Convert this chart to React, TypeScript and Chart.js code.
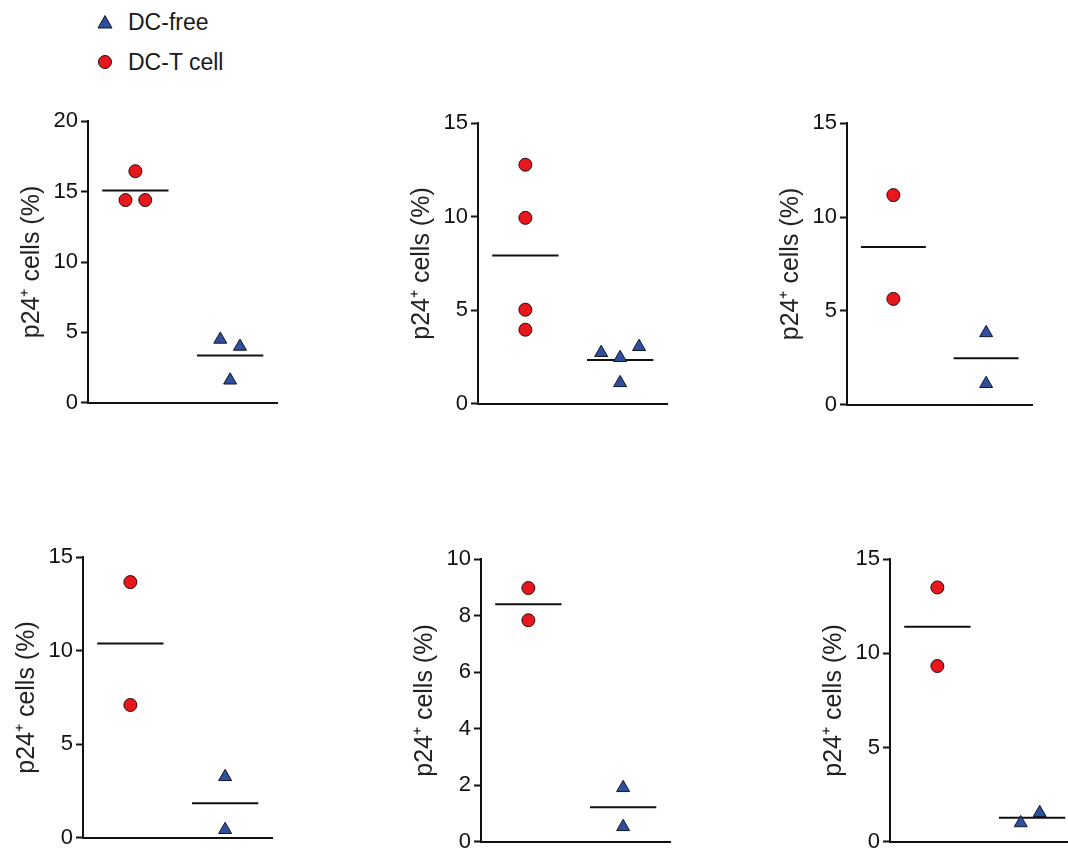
import React, { useEffect, useRef } from "react";
import { Chart, registerables } from "chart.js";

Chart.register(...registerables);

// ---------------- data ----------------
const groupNames = ["DC-free", "DC-T cell"];
const yTitle = "p24\u207A cells (%)";

// group centres on the x scale (red = DC-T cell, blue = DC-free)
const redCenter = 0.5;
const blueCenter = 1.5;

const p1Red = [16.45, 14.4, 14.4];
const p1RedJitter = [0, -0.104, 0.104];
const p1Blue = [4.5, 4.0, 1.6];
const p1BlueJitter = [-0.104, 0.104, 0];

const p2Red = [12.78, 9.94, 5.03, 3.96];
const p2RedJitter = [0, 0, 0, 0];
const p2Blue = [2.73, 2.46, 3.05, 1.12];
const p2BlueJitter = [-0.2, 0, 0.2, 0];

const p3Red = [11.17, 5.64];
const p3RedJitter = [0, 0];
const p3Blue = [3.83, 1.12];
const p3BlueJitter = [0, 0];

const p4Red = [13.67, 7.1];
const p4RedJitter = [0, 0];
const p4Blue = [3.26, 0.43];
const p4BlueJitter = [0, 0];

const p5Red = [8.98, 7.84];
const p5RedJitter = [0, 0];
const p5Blue = [1.91, 0.53];
const p5BlueJitter = [0, 0];

const p6Red = [13.5, 9.33];
const p6RedJitter = [0, 0];
const p6Blue = [1.0, 1.54];
const p6BlueJitter = [-0.12, 0.08];

const yMaxes = [20, 15, 15, 15, 10, 15];
const ySteps = [5, 5, 5, 5, 2, 5];

// ---------------- layout / style ----------------
const FONT = "'Liberation Sans', Arial, Helvetica, sans-serif";
const RED = "#e8161d";
const BLUE = "#2f4f9e";
const INK = "#111111";
const AXIS_W = 71;
const PAD_TOP = 16;
const PAD_BOTTOM = 16;
const PAD_RIGHT = 6;
const MEAN_HALF = 0.35;

const panelBoxes = [
  { axisX: 88, top: 121, w: 192, h: 282 },
  { axisX: 478, top: 123, w: 192, h: 281 },
  { axisX: 847, top: 123, w: 188, h: 282 },
  { axisX: 83, top: 557, w: 192, h: 281 },
  { axisX: 481, top: 559, w: 192, h: 283 },
  { axisX: 890, top: 559, w: 192, h: 283 },
];

const panelData = [
  { red: p1Red, redJ: p1RedJitter, blue: p1Blue, blueJ: p1BlueJitter },
  { red: p2Red, redJ: p2RedJitter, blue: p2Blue, blueJ: p2BlueJitter },
  { red: p3Red, redJ: p3RedJitter, blue: p3Blue, blueJ: p3BlueJitter },
  { red: p4Red, redJ: p4RedJitter, blue: p4Blue, blueJ: p4BlueJitter },
  { red: p5Red, redJ: p5RedJitter, blue: p5Blue, blueJ: p5BlueJitter },
  { red: p6Red, redJ: p6RedJitter, blue: p6Blue, blueJ: p6BlueJitter },
];

const mean = (a: number[]) => a.reduce((s, v) => s + v, 0) / a.length;

function Panel({ idx }: { idx: number }) {
  const ref = useRef<HTMLCanvasElement | null>(null);
  const box = panelBoxes[idx];
  const d = panelData[idx];
  const cw = AXIS_W + box.w + PAD_RIGHT;
  const ch = PAD_TOP + box.h + PAD_BOTTOM;

  useEffect(() => {
    if (!ref.current) return;
    const redMean = mean(d.red);
    const blueMean = mean(d.blue);
    const chart = new Chart(ref.current, {
      type: "scatter",
      data: {
        datasets: [
          {
            label: groupNames[1],
            data: d.red.map((v, i) => ({ x: redCenter + d.redJ[i], y: v })),
            pointStyle: "circle",
            pointRadius: 6.5,
            pointBackgroundColor: RED,
            pointBorderColor: "#2a0a0a",
            pointBorderWidth: 1,
            clip: false,
            order: 1,
          } as any,
          {
            label: groupNames[0],
            data: d.blue.map((v, i) => ({ x: blueCenter + d.blueJ[i], y: v })),
            pointStyle: "triangle",
            pointRadius: 7.5,
            pointBackgroundColor: BLUE,
            pointBorderColor: "#101828",
            pointBorderWidth: 1,
            clip: false,
            order: 1,
          } as any,
          {
            label: "mean DC-T",
            data: [
              { x: redCenter - MEAN_HALF, y: redMean },
              { x: redCenter + MEAN_HALF, y: redMean },
            ],
            showLine: true,
            borderColor: INK,
            borderWidth: 2,
            pointRadius: 0,
            clip: false,
            order: 2,
          } as any,
          {
            label: "mean DC-free",
            data: [
              { x: blueCenter - MEAN_HALF, y: blueMean },
              { x: blueCenter + MEAN_HALF, y: blueMean },
            ],
            showLine: true,
            borderColor: INK,
            borderWidth: 2,
            pointRadius: 0,
            clip: false,
            order: 2,
          } as any,
        ],
      },
      options: {
        animation: false,
        responsive: false,
        events: [],
        layout: { padding: { top: PAD_TOP, bottom: PAD_BOTTOM, right: PAD_RIGHT, left: 0 } },
        plugins: { legend: { display: false }, tooltip: { enabled: false } },
        scales: {
          x: {
            type: "linear",
            min: 0,
            max: 2,
            ticks: { display: false },
            grid: { display: false, drawTicks: false },
            border: { display: true, color: INK, width: 2 },
            afterFit: (s: any) => {
              s.height = 0;
            },
          },
          y: {
            type: "linear",
            min: 0,
            max: yMaxes[idx],
            ticks: {
              stepSize: ySteps[idx],
              font: { family: FONT, size: 22 },
              color: INK,
              padding: 3,
            },
            grid: {
              display: true,
              drawOnChartArea: false,
              drawTicks: true,
              tickLength: 7,
              tickWidth: 2,
              color: INK,
            },
            border: { display: true, color: INK, width: 2 },
            title: {
              display: true,
              text: yTitle,
              font: { family: FONT, size: 25 },
              color: "#222",
              padding: 0,
            },
            afterFit: (s: any) => {
              s.width = AXIS_W;
            },
          },
        },
      } as any,
    });
    return () => chart.destroy();
  }, [idx]);

  return (
    <canvas
      ref={ref}
      width={cw}
      height={ch}
      style={{
        position: "absolute",
        left: box.axisX - AXIS_W,
        top: box.top - PAD_TOP,
        width: cw,
        height: ch,
      }}
    />
  );
}

function Legend() {
  const textStyle: React.CSSProperties = {
    position: "absolute",
    left: 128,
    fontFamily: FONT,
    fontSize: 23,
    lineHeight: "26px",
    height: 26,
    color: "#1a1a1a",
    whiteSpace: "nowrap",
  };
  return (
    <>
      <svg style={{ position: "absolute", left: 97, top: 14 }} width={16} height={16}>
        <polygon points="8,1.5 15,14 1,14" fill={BLUE} stroke="#101828" strokeWidth={1} />
      </svg>
      <div style={{ ...textStyle, top: 22 - 13 }}>{groupNames[0]}</div>
      <svg style={{ position: "absolute", left: 97, top: 54 }} width={16} height={16}>
        <circle cx={8} cy={8} r={6.5} fill={RED} stroke="#2a0a0a" strokeWidth={1} />
      </svg>
      <div style={{ ...textStyle, top: 62 - 13 }}>{groupNames[1]}</div>
    </>
  );
}

export default function App() {
  return (
    <div
      style={{
        position: "absolute",
        left: 0,
        top: 0,
        width: 1068,
        height: 850,
        overflow: "hidden",
        background: "#ffffff",
      }}
    >
      <Legend />
      {panelBoxes.map((_, i) => (
        <Panel key={i} idx={i} />
      ))}
    </div>
  );
}
